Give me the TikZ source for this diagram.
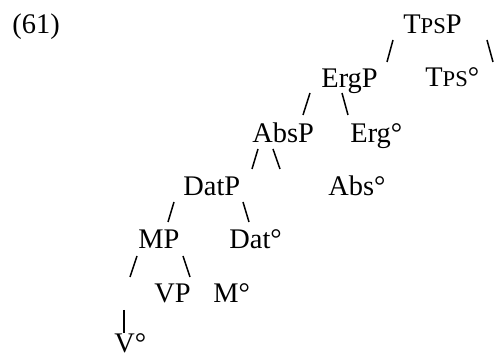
\documentclass[tikz,border=0pt]{standalone}
\usepackage{fontspec}
\setmainfont{Liberation Serif}
\newcommand{\smc}[1]{{\fontsize{11.3}{13}\selectfont #1}}
\begin{document}
\begin{tikzpicture}[x=0.5pt,y=-0.5pt,
  lbl/.style={anchor=base west,inner sep=0pt,font=\fontsize{14.2}{16}\selectfont},
  branch/.style={line width=0.75pt,line cap=butt}]
\useasboundingbox (0,0) rectangle (494,356);

% labels of the tree
\node[lbl] (ex)   at (12,34)  {(61)};
\node[lbl] (tpsp) at (403,34) {T\smc{PS}P};
\node[lbl] (ergp) at (321,88) {ErgP};
\node[lbl] (tps)  at (425,87) {T\smc{PS}°};
\node[lbl] (absp) at (252,143) {AbsP};
\node[lbl] (erg)  at (350,143) {Erg°};
\node[lbl] (datp) at (183,196) {DatP};
\node[lbl] (abs)  at (328,196) {Abs°};
\node[lbl] (mp)   at (138,249) {MP};
\node[lbl] (dat)  at (229,249) {Dat°};
\node[lbl] (vp)   at (154,303) {VP};
\node[lbl] (m)    at (213,303) {M°};
\node[lbl,text depth=0pt] (v) at (114,353) {V°};

% branch end points
\coordinate (a1) at (393,40);  \coordinate (a2) at (387,62);
\coordinate (b1) at (487,40);  \coordinate (b2) at (493,62);
\coordinate (c1) at (310,93);  \coordinate (c2) at (303,115);
\coordinate (d1) at (342,93);  \coordinate (d2) at (348,115);
\coordinate (e1) at (258,149); \coordinate (e2) at (252,169);
\coordinate (f1) at (273,149); \coordinate (f2) at (280,169);
\coordinate (g1) at (174,202); \coordinate (g2) at (168,222);
\coordinate (h1) at (243,202); \coordinate (h2) at (249,222);
\coordinate (i1) at (137,256); \coordinate (i2) at (130,277);
\coordinate (j1) at (183,256); \coordinate (j2) at (190,277);
\coordinate (k1) at (124,310); \coordinate (k2) at (124,333);

\foreach \p in {a,b,c,d,e,f,g,h,i,j,k}
  \draw[branch] (\p1) -- (\p2);
\end{tikzpicture}
\end{document}
